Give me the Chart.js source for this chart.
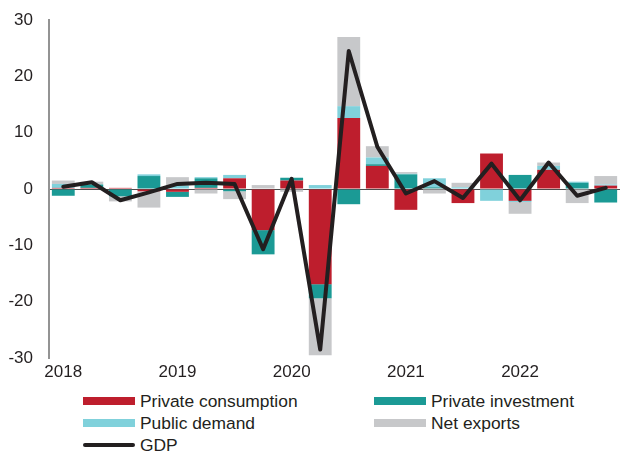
<!DOCTYPE html>
<html>
<head>
<meta charset="utf-8">
<script src="https://cdn.jsdelivr.net/npm/chart.js@4.4.1/dist/chart.umd.min.js"></script>
<style>
  body { margin: 0; background: #fff; font-family: "Liberation Sans", Arial, sans-serif; }
  #wrap { position: relative; width: 622px; height: 451px; }
  #box { position: absolute; left: 0; top: 0; width: 622px; height: 390px; }
  #legend { position: absolute; left: 83px; top: 390px; width: 540px; display: grid;
    grid-template-columns: 291px 249px; grid-auto-rows: 22px; color: #231f20; font-size: 17.4px; }
  .item { display: flex; align-items: center; white-space: nowrap; }
  .swatch { width: 52px; margin-right: 5px; }
</style>
</head>
<body>
<div id="wrap">
  <div id="box"><canvas id="myChart"></canvas></div>
  <div id="legend"></div>
</div>
<script>
var quarters = ['2018','','','','2019','','','','2020','','','','2021','','','','2022','','',''];
var consumption = [0.2, 0.2, 0.2, -0.4, -0.5, 0.2, 1.9, -7.3, 1.5, -16.9, 12.6, 4.1, -3.7, 0.1, -2.5, 6.3, -2.1, 3.4, 0, 0.6];
var investment = [-1.2, 0.6, -1.3, 2.3, -0.9, 1.7, -0.4, -4.3, 0.5, -2.5, -2.7, 0.3, 2.6, 0.2, 0, 0, 2.5, 0, 1.1, -2.4];
var publicDemand = [0.7, 0, 0, 0.3, 0.6, 0.2, 0.6, 0, 0, 0.7, 2.1, 1.2, 0.1, 1.6, 0.3, -2.1, -0.2, 0.7, 0.2, 0.2];
var netExports = [0.6, 0.5, -0.9, -2.9, 1.5, -0.8, -1.4, 0.7, -0.5, -10.1, 12.3, 2.0, 0.3, -0.8, 0.8, 0, -2.1, 0.6, -2.5, 1.5];
var gdp = [0.4, 1.2, -2.0, -0.6, 0.9, 1.1, 0.9, -10.7, 1.8, -28.5, 24.5, 7.5, -0.8, 1.4, -1.6, 4.5, -2.0, 4.7, -1.2, 0.2];

var textColor = '#231f20';
Chart.defaults.font.family = '"Liberation Sans", Arial, sans-serif';
Chart.defaults.font.size = 17;
Chart.defaults.color = textColor;

function barSet(label, values, color) {
  return {
    type: 'bar', label: label, data: values, backgroundColor: color,
    stack: 'parts', order: 1, barPercentage: 0.8, categoryPercentage: 1
  };
}

var data = {
  labels: quarters,
  datasets: [
    barSet('Private consumption', consumption, '#be1e2d'),
    barSet('Private investment', investment, '#1b9a95'),
    barSet('Public demand', publicDemand, '#80d1db'),
    barSet('Net exports', netExports, '#c7c8ca'),
    {
      type: 'line', label: 'GDP', data: gdp, borderColor: textColor, backgroundColor: textColor,
      borderWidth: 4, pointRadius: 0, tension: 0, stack: 'gdp', order: 0,
      borderJoinStyle: 'round', borderCapStyle: 'round'
    }
  ]
};

var ctx = document.getElementById('myChart').getContext('2d');
var chart = new Chart(ctx, {
  data: data,
  options: {
    responsive: true,
    maintainAspectRatio: false,
    animation: false,
    layout: { padding: { top: 20, right: 2, bottom: 0, left: 0 } },
    plugins: { legend: { display: false }, tooltip: { enabled: false } },
    scales: {
      x: {
        stacked: true,
        grid: { display: false, drawTicks: false },
        border: { display: false },
        ticks: { autoSkip: false, maxRotation: 0, padding: 4, color: textColor },
        afterFit: function (scale) { scale.height = 32; }
      },
      y: {
        stacked: true,
        min: -30, max: 30,
        ticks: { stepSize: 10, padding: 16, color: textColor },
        grid: {
          drawTicks: false,
          color: function (c) { return c.tick && c.tick.value === 0 ? '#4d4d4d' : 'rgba(0,0,0,0)'; },
          lineWidth: 1
        },
        border: { display: true, color: '#939393', width: 2 },
        afterFit: function (scale) {
          scale.width = 49;
          scale.paddingTop = 0;
          scale.paddingBottom = 0;
        }
      }
    }
  }
});

// two-column legend under the chart
var legend = document.getElementById('legend');
chart.data.datasets.forEach(function (ds) {
  var swatch = ds.type === 'line'
    ? '<span class="swatch" style="height:4px;border-radius:2px;background:' + ds.borderColor + '"></span>'
    : '<span class="swatch" style="height:8px;background:' + ds.backgroundColor + '"></span>';
  legend.innerHTML += '<div class="item">' + swatch + '<span>' + ds.label + '</span></div>';
});
</script>
</body>
</html>
